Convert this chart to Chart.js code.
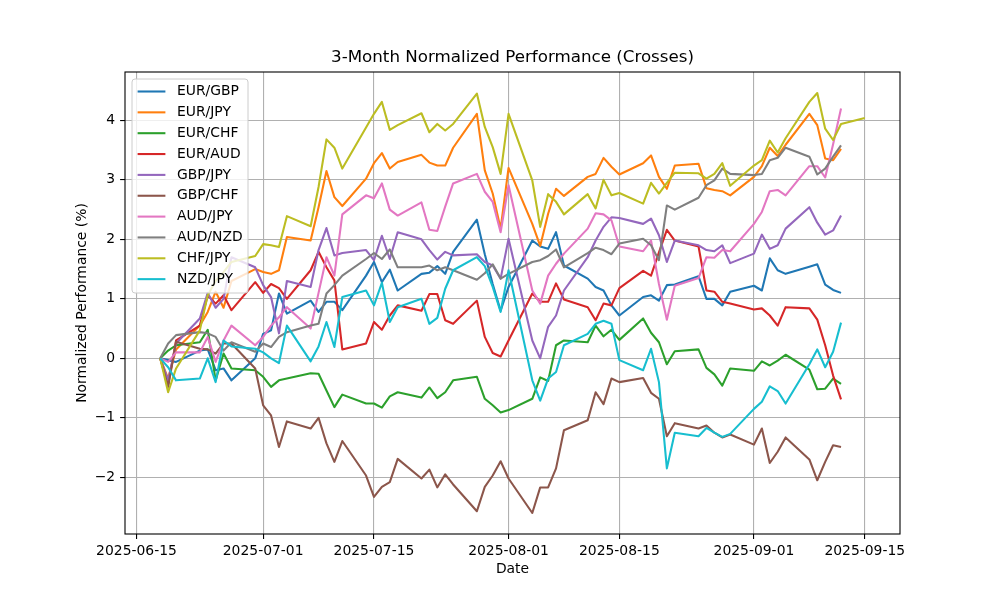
<!DOCTYPE html>
<html>
<head>
<meta charset="utf-8">
<script src="https://cdn.jsdelivr.net/npm/chart.js@4"></script>
<style>body{margin:0;background:#fff}</style>
</head>
<body>
<canvas id="chart" width="1000" height="600"></canvas>
<script>
// trading days (CHF/JPY has one extra point on 09-15)
const dates = [
  '2025-06-18','2025-06-19','2025-06-20','2025-06-23','2025-06-24','2025-06-25','2025-06-26','2025-06-27','2025-06-30',
  '2025-07-01','2025-07-02','2025-07-03','2025-07-04','2025-07-07','2025-07-08','2025-07-09','2025-07-10','2025-07-11',
  '2025-07-14','2025-07-15','2025-07-16','2025-07-17','2025-07-18','2025-07-21','2025-07-22','2025-07-23','2025-07-24',
  '2025-07-25','2025-07-28','2025-07-29','2025-07-30','2025-07-31','2025-08-01','2025-08-04','2025-08-05','2025-08-06',
  '2025-08-07','2025-08-08','2025-08-11','2025-08-12','2025-08-13','2025-08-14','2025-08-15','2025-08-18','2025-08-19',
  '2025-08-20','2025-08-21','2025-08-22','2025-08-25','2025-08-26','2025-08-27','2025-08-28','2025-08-29','2025-09-01',
  '2025-09-02','2025-09-03','2025-09-04','2025-09-05','2025-09-08','2025-09-09','2025-09-10','2025-09-11','2025-09-12',
  '2025-09-15'
];

const eurGbp = [0,-0.03,-0.06,0.13,0.15,-0.2,-0.17,-0.37,0.0,0.41,0.47,1.09,0.75,0.97,0.78,0.95,0.95,0.81,1.39,1.62,1.28,1.49,1.14,
  1.42,1.44,1.55,1.42,1.79,2.33,1.75,1.25,0.8,1.2,1.98,1.88,1.84,2.12,1.56,1.34,1.2,1.14,0.89,0.72,1.03,1.06,0.97,1.23,1.24,1.38,
  1.0,1.0,0.89,1.12,1.22,1.14,1.68,1.48,1.42,1.54,1.58,1.24,1.15,1.10];
const eurJpy = [0,-0.34,0.15,0.55,0.78,1.12,0.85,1.3,1.5,1.45,1.42,1.48,2.04,1.98,2.54,3.15,2.71,2.56,3.02,3.28,3.45,3.19,3.30,
  3.42,3.29,3.24,3.24,3.54,4.11,3.16,2.77,2.18,3.20,2.26,1.89,2.43,2.85,2.73,3.05,3.10,3.37,3.22,3.09,3.28,3.41,3.05,2.85,3.24,3.27,
  2.86,2.83,2.81,2.74,3.05,3.23,3.54,3.40,3.59,4.11,3.92,3.36,3.33,3.52];
const eurChf = [0,0.13,0.22,0.27,0.48,-0.37,0.08,-0.17,-0.2,-0.31,-0.48,-0.37,-0.34,-0.25,-0.26,-0.54,-0.82,-0.61,-0.76,-0.76,-0.83,
  -0.64,-0.57,-0.66,-0.49,-0.67,-0.57,-0.37,-0.31,-0.68,-0.79,-0.91,-0.87,-0.68,-0.32,-0.38,0.22,0.30,0.27,0.55,0.37,0.48,0.31,0.67,
  0.43,0.27,-0.10,0.12,0.15,-0.16,-0.27,-0.46,-0.17,-0.21,-0.05,-0.12,-0.04,0.06,-0.19,-0.52,-0.51,-0.34,-0.43];
const eurAud = [0,-0.45,0.3,0.55,1.06,0.92,1.06,0.81,1.28,1.1,1.25,1.18,1.0,1.48,1.79,1.53,1.31,0.15,0.25,0.61,0.48,0.72,0.89,
  0.80,1.08,1.08,0.64,0.58,0.97,0.36,0.09,0.03,0.3,1.09,0.95,0.95,1.26,0.99,0.86,0.64,0.92,0.89,1.18,1.47,1.39,1.78,2.16,1.98,1.88,
  1.14,1.12,0.95,0.92,0.82,0.84,0.72,0.55,0.86,0.84,0.65,0.22,-0.29,-0.69];
const gbpJpy = [0,-0.37,0.25,0.67,1.1,0.85,1.0,1.7,1.53,1.23,1.03,0.42,1.30,1.20,1.82,2.19,1.73,1.77,1.82,1.65,2.06,1.67,2.12,
  2.0,1.82,1.66,1.79,1.73,1.75,1.62,1.56,1.34,2.01,0.3,0.0,0.53,0.72,1.14,1.70,1.98,2.21,2.37,2.36,2.26,2.35,2.07,1.62,1.98,1.90,
  1.82,1.80,1.90,1.60,1.76,2.08,1.84,1.90,2.18,2.54,2.28,2.08,2.15,2.40];
const gbpChf = [0,-0.48,0.28,0.16,0.15,0.08,0.25,0.25,-0.17,-0.79,-0.96,-1.49,-1.06,-1.18,-1.0,-1.43,-1.74,-1.39,-1.97,-2.33,-2.16,
  -2.08,-1.69,-2.02,-1.87,-2.17,-1.95,-2.12,-2.57,-2.16,-1.97,-1.73,-2.02,-2.60,-2.17,-2.17,-1.85,-1.21,-1.04,-0.57,-0.77,-0.34,
  -0.40,-0.33,-0.58,-0.68,-1.31,-1.09,-1.18,-1.13,-1.25,-1.33,-1.28,-1.45,-1.18,-1.76,-1.57,-1.33,-1.70,-2.05,-1.74,-1.46,-1.49];
const audJpy = [0,-0.06,0.1,0.1,0.36,-0.06,0.3,0.55,0.22,0.36,0.55,0.69,0.86,0.5,1.1,1.70,1.39,2.42,2.74,2.69,2.94,2.50,2.40,
  2.62,2.16,2.14,2.55,2.94,3.10,2.80,2.63,2.12,2.91,1.14,0.92,1.39,1.59,1.76,2.18,2.44,2.42,2.32,1.88,1.80,1.98,1.25,0.65,1.22,1.35,
  1.70,1.69,1.82,1.80,2.26,2.46,2.81,2.83,2.74,3.23,3.23,3.04,3.6,4.20];
const audNzd = [0,0.25,0.39,0.44,0.42,0.36,0.13,0.27,0.11,0.25,0.19,0.36,0.44,0.55,0.58,1.09,1.23,1.39,1.67,1.77,1.67,1.83,1.53,
  1.53,1.56,1.48,1.53,1.48,1.32,1.43,1.58,1.34,1.42,1.62,1.65,1.72,1.83,1.53,1.77,1.86,1.82,1.75,1.93,2.01,1.90,1.65,2.57,2.50,2.70,
  2.91,2.99,3.19,3.10,3.08,3.10,3.33,3.37,3.54,3.39,3.09,3.19,3.39,3.58];
const chfJpy = [0,-0.57,-0.17,0.47,1.06,1.3,1.45,1.62,1.72,1.92,1.90,1.87,2.39,2.22,2.88,3.68,3.54,3.19,3.88,4.11,4.31,3.84,3.92,
  4.12,3.80,3.94,3.83,3.94,4.45,3.89,3.55,3.10,4.11,2.99,2.21,2.76,2.63,2.42,2.76,2.52,3.0,2.74,2.78,2.60,2.95,2.77,2.95,3.12,3.11,
  3.02,3.10,3.28,2.90,3.24,3.33,3.66,3.46,3.7,4.31,4.46,3.86,3.67,3.94,4.04];
const nzdJpy = [0,-0.15,-0.37,-0.34,0.0,-0.4,0.3,0.2,0.16,0.1,0.0,-0.08,0.55,-0.05,0.20,0.61,0.19,1.03,1.14,0.89,1.27,0.61,0.86,
  1.0,0.58,0.68,1.17,1.48,1.70,1.55,1.2,0.78,1.48,-0.37,-0.71,-0.34,-0.23,0.22,0.41,0.58,0.63,0.58,-0.03,-0.20,0.16,-0.40,-1.85,
  -1.25,-1.31,-1.17,-1.25,-1.32,-1.27,-0.85,-0.73,-0.47,-0.55,-0.76,-0.1,0.15,-0.15,0.11,0.60];

const seriesNames = ['EUR/GBP','EUR/JPY','EUR/CHF','EUR/AUD','GBP/JPY','GBP/CHF','AUD/JPY','AUD/NZD','CHF/JPY','NZD/JPY'];
const seriesValues = [eurGbp, eurJpy, eurChf, eurAud, gbpJpy, gbpChf, audJpy, audNzd, chfJpy, nzdJpy];
const colors = ['#1f77b4','#ff7f0e','#2ca02c','#d62728','#9467bd','#8c564b','#e377c2','#7f7f7f','#bcbd22','#17becf'];
const tickDates = ['2025-06-15','2025-07-01','2025-07-15','2025-08-01','2025-08-15','2025-09-01','2025-09-15'];
const yTicks = [-2,-1,0,1,2,3,4];

const FONT = '"DejaVu Sans", sans-serif';
const toDay = s => Date.UTC(+s.slice(0,4), +s.slice(5,7)-1, +s.slice(8,10)) / 86400000;
const dayToStr = d => new Date(d * 86400000).toISOString().slice(0,10);

const xs = dates.map(toDay);
const allVals = seriesValues.flat();
const xMin = xs[0], xMax = xs[xs.length-1];
const yMin = Math.min(...allVals), yMax = Math.max(...allVals);
const xPad = (xMax - xMin) * 0.05, yPad = (yMax - yMin) * 0.05;

const datasets = seriesNames.map((name, i) => ({
  label: name,
  data: seriesValues[i].map((v, j) => ({x: xs[j], y: v})),
  borderColor: colors[i],
  backgroundColor: colors[i],
  borderWidth: 2.08,
  borderJoinStyle: 'round',
  pointRadius: 0,
  tension: 0,
  fill: false,
  order: seriesNames.length - i // later series on top, like matplotlib
}));

const frame = {
  id: 'frame',
  beforeDraw(chart) {
    const ctx = chart.ctx;
    ctx.save();
    ctx.fillStyle = '#fff';
    ctx.fillRect(0, 0, chart.width, chart.height);
    ctx.restore();
  },
  afterDraw(chart) {
    const {ctx, chartArea: a} = chart;
    ctx.save();
    ctx.strokeStyle = '#000';
    ctx.lineWidth = 1.1;
    ctx.strokeRect(a.left, a.top, a.right - a.left, a.bottom - a.top);

    ctx.fillStyle = '#000';
    ctx.textAlign = 'center';
    ctx.textBaseline = 'middle';
    ctx.font = '16.7px ' + FONT;
    ctx.fillText('3-Month Normalized Performance (Crosses)', (a.left + a.right) / 2, a.top - 14);
    ctx.font = '13.9px ' + FONT;
    ctx.fillText('Date', (a.left + a.right) / 2, 569);
    ctx.save();
    ctx.translate(82, (a.top + a.bottom) / 2);
    ctx.rotate(-Math.PI / 2);
    ctx.fillText('Normalized Performance (%)', 0, 0);
    ctx.restore();

    // legend, upper left inside the axes
    const bx = a.left + 7, by = a.top + 7, bw = 116, bh = 214;
    ctx.beginPath();
    ctx.roundRect(bx, by, bw, bh, 3);
    ctx.fillStyle = 'rgba(255,255,255,0.8)';
    ctx.fill();
    ctx.strokeStyle = '#cccccc';
    ctx.lineWidth = 1;
    ctx.stroke();
    ctx.textAlign = 'left';
    seriesNames.forEach((name, i) => {
      const y = by + 12.5 + i * 20.85;
      ctx.strokeStyle = colors[i];
      ctx.lineWidth = 2.08;
      ctx.beginPath();
      ctx.moveTo(bx + 5.6, y);
      ctx.lineTo(bx + 33.4, y);
      ctx.stroke();
      ctx.fillStyle = '#000';
      ctx.fillText(name, bx + 45, y);
    });
    ctx.restore();
  }
};

new Chart(document.getElementById('chart'), {
  type: 'line',
  data: {datasets},
  plugins: [frame],
  options: {
    responsive: false,
    devicePixelRatio: 1,
    animation: false,
    layout: {padding: {left: 65, right: 100, top: 72, bottom: 0}},
    plugins: {legend: {display: false}, title: {display: false}, tooltip: {enabled: false}},
    scales: {
      x: {
        type: 'linear',
        min: xMin - xPad,
        max: xMax + xPad,
        afterFit: s => { s.height = 66; },
        afterBuildTicks: s => { s.ticks = tickDates.map(t => ({value: toDay(t)})); },
        grid: {color: '#b0b0b0', lineWidth: 1.1, tickColor: '#000', tickLength: 4.9},
        border: {display: false},
        ticks: {
          autoSkip: false, maxRotation: 0, padding: 4,
          color: '#000', font: {family: FONT, size: 13.9},
          callback: v => dayToStr(v)
        }
      },
      y: {
        type: 'linear',
        min: yMin - yPad,
        max: yMax + yPad,
        afterFit: s => { s.width = 60; },
        afterBuildTicks: s => { s.ticks = yTicks.map(v => ({value: v})); },
        grid: {color: '#b0b0b0', lineWidth: 1.1, tickColor: '#000', tickLength: 4.9},
        border: {display: false},
        ticks: {
          padding: 4.9, color: '#000', font: {family: FONT, size: 13.9},
          callback: v => String(v).replace('-', '\u2212')
        }
      }
    }
  }
});
</script>
</body>
</html>
